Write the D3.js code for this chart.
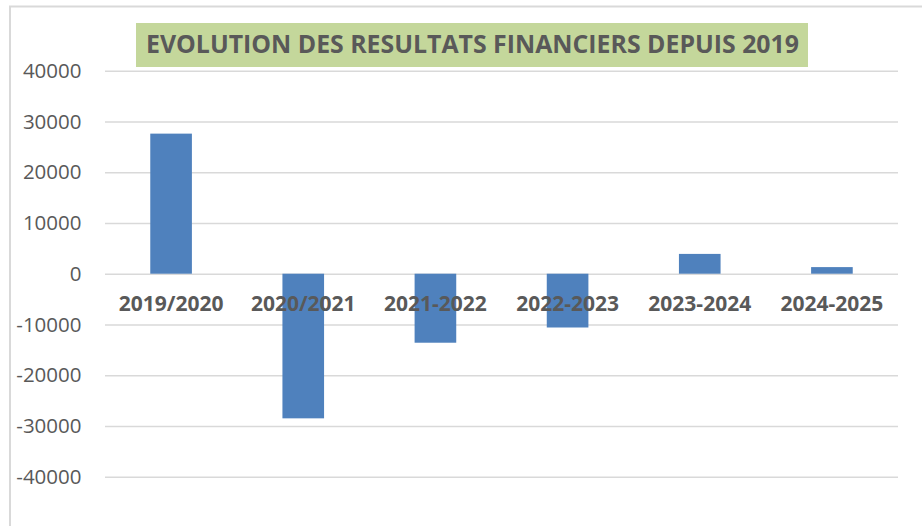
<!DOCTYPE html>
<html>
<head>
<meta charset="utf-8">
<script src="https://cdn.jsdelivr.net/npm/d3@7"></script>
<style>
  html, body { margin: 0; padding: 0; background: #fff; }
  svg { display: block; }
</style>
</head>
<body>
<svg id="chart" width="922" height="526"></svg>
<script>
const title = "EVOLUTION DES RESULTATS FINANCIERS DEPUIS 2019";
const categories = ["2019/2020", "2020/2021", "2021-2022", "2022-2023", "2023-2024", "2024-2025"];
const values = [27600, -28500, -13600, -10600, 3900, 1300];
const yTicks = [40000, 30000, 20000, 10000, 0, -10000, -20000, -30000, -40000];

const svg = d3.select("#chart");
const W = 922, H = 526;

// outer chart border (cut at right and bottom)
svg.append("rect")
  .attr("x", 10).attr("y", 6.5)
  .attr("width", W + 20).attr("height", H + 20)
  .attr("fill", "#fff")
  .attr("stroke", "#d9d9d9").attr("stroke-width", 2);

const plot = { left: 105, right: 898, top: 70.7, bottom: 476.7 };

const x = d3.scaleBand()
  .domain(categories)
  .range([plot.left, plot.right])
  .paddingInner(0.685)
  .paddingOuter(0.3425);

const y = d3.scaleLinear()
  .domain([-40000, 40000])
  .range([plot.bottom, plot.top]);

// y axis with gridlines
const yAxis = svg.append("g")
  .attr("transform", `translate(${plot.left},0)`)
  .call(d3.axisLeft(y)
    .tickValues(yTicks)
    .tickFormat(d => String(d))
    .tickSizeInner(-(plot.right - plot.left))
    .tickSizeOuter(0)
    .tickPadding(23.5));
yAxis.select(".domain").remove();
yAxis.selectAll(".tick line")
  .attr("stroke", "#d9d9d9").attr("stroke-width", 1.5);
yAxis.selectAll(".tick text")
  .attr("fill", "#595959")
  .style("font-family", "'Open Sans', sans-serif")
  .style("font-size", "20.5px");

// bars
svg.append("g").selectAll("rect")
  .data(values)
  .join("rect")
  .attr("x", (d, i) => x(categories[i]))
  .attr("width", x.bandwidth())
  .attr("y", d => y(Math.max(0, d)))
  .attr("height", d => Math.abs(y(d) - y(0)))
  .attr("fill", "#4f81bd");

// category axis labels (drawn on top of bars)
const xAxis = svg.append("g")
  .attr("transform", `translate(0,${y(0)})`)
  .call(d3.axisBottom(x).tickSize(0).tickPadding(0));
xAxis.select(".domain").remove();
xAxis.selectAll(".tick text")
  .attr("y", 37.5)
  .attr("dy", null)
  .attr("fill", "#595959")
  .style("font-family", "'Open Sans', sans-serif")
  .style("font-weight", "bold")
  .style("font-size", "21px");

// title box
svg.append("rect")
  .attr("x", 136).attr("y", 23)
  .attr("width", 672).attr("height", 44)
  .attr("fill", "#c4d79b");
svg.append("text")
  .attr("x", 146).attr("y", 53)
  .attr("textLength", 653)
  .attr("lengthAdjust", "spacingAndGlyphs")
  .attr("fill", "#595959")
  .style("font-family", "'Open Sans', sans-serif")
  .style("font-weight", "bold")
  .style("font-size", "25px")
  .text(title);
</script>
</body>
</html>
